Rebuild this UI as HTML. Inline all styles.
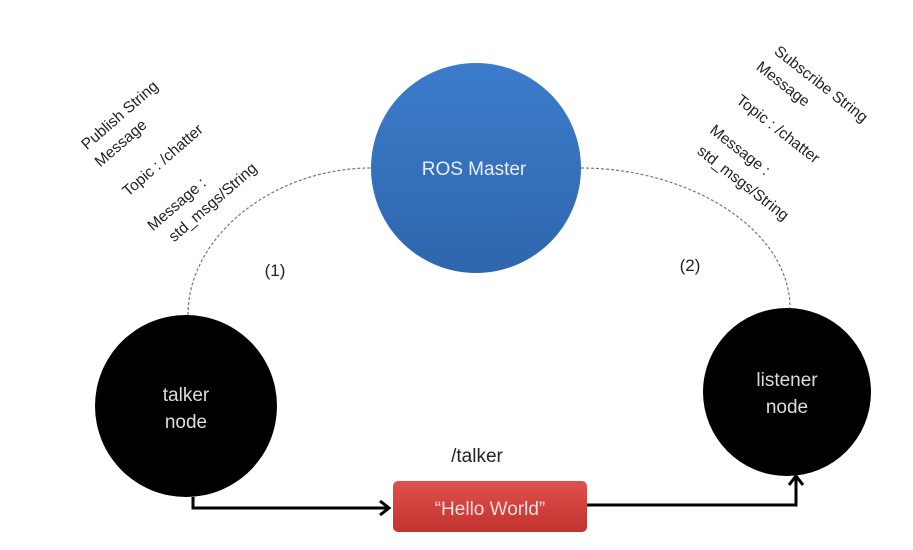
<!DOCTYPE html>
<html><head><meta charset="utf-8"><style>
html,body{margin:0;padding:0;background:#fff;}
svg{display:block;font-family:"Liberation Sans",Arial,sans-serif;}
</style></head><body>
<svg width="913" height="550" viewBox="0 0 913 550" xmlns="http://www.w3.org/2000/svg">
<defs>
<linearGradient id="bl" x1="0" y1="0" x2="0" y2="1"><stop offset="0" stop-color="#3b7ccb"/><stop offset="1" stop-color="#2f66ad"/></linearGradient>
<linearGradient id="rd" x1="0" y1="0" x2="0" y2="1"><stop offset="0" stop-color="#e0504c"/><stop offset="1" stop-color="#c23330"/></linearGradient>
</defs>
<path d="M188,315 C188,235 275,168 371,168" fill="none" stroke="#777" stroke-width="1.2" stroke-dasharray="3,2"/>
<path d="M581,168 C690,168 790,230 790,308" fill="none" stroke="#777" stroke-width="1.2" stroke-dasharray="3,2"/>
<circle cx="476" cy="168" r="105" fill="url(#bl)"/>
<text x="474" y="175" font-size="19" fill="#e8eef8" text-anchor="middle">ROS Master</text>
<ellipse cx="186" cy="406" rx="91" ry="91" fill="#000"/>
<text x="186" y="401" font-size="19" fill="#ddd" text-anchor="middle">talker</text>
<text x="186" y="428" font-size="19" fill="#ddd" text-anchor="middle">node</text>
<ellipse cx="787" cy="392" rx="84" ry="84" fill="#000"/>
<text x="787" y="386" font-size="19" fill="#ddd" text-anchor="middle">listener</text>
<text x="787" y="413" font-size="19" fill="#ddd" text-anchor="middle">node</text>
<polyline points="193,497 193,508 388,508" fill="none" stroke="#000" stroke-width="3"/>
<polyline points="380,501 389,508 380,515" fill="none" stroke="#000" stroke-width="3"/>
<polyline points="587,505 796,505 796,478" fill="none" stroke="#000" stroke-width="3"/>
<polyline points="789,485 796,476 803,485" fill="none" stroke="#000" stroke-width="3"/>
<rect x="393" y="481" width="194" height="51" rx="5" fill="url(#rd)"/>
<text x="490" y="515" font-size="19" fill="#f4dede" text-anchor="middle">“Hello World”</text>
<text x="477" y="462" font-size="19" fill="#222" text-anchor="middle">/talker</text>
<text x="275" y="276" font-size="17" fill="#222" text-anchor="middle">(1)</text>
<text x="690" y="271" font-size="17" fill="#222" text-anchor="middle">(2)</text>
<g font-size="15.5" fill="#222" text-anchor="middle">
<text transform="translate(123,119) rotate(-41)">Publish String</text>
<text transform="translate(124,147) rotate(-41)">Message</text>
<text transform="translate(166,164) rotate(-41)">Topic : /chatter</text>
<text transform="translate(180,208) rotate(-41)">Message :</text>
<text transform="translate(216,206) rotate(-41)">std_msgs/String</text>
<text transform="translate(818,88) rotate(38)">Subscribe String</text>
<text transform="translate(780,88) rotate(38)">Message</text>
<text transform="translate(775,133) rotate(38)">Topic : /chatter</text>
<text transform="translate(737,154) rotate(38)">Message :</text>
<text transform="translate(740,187) rotate(38)">std_msgs/String</text>
</g>
</svg>
</body></html>
